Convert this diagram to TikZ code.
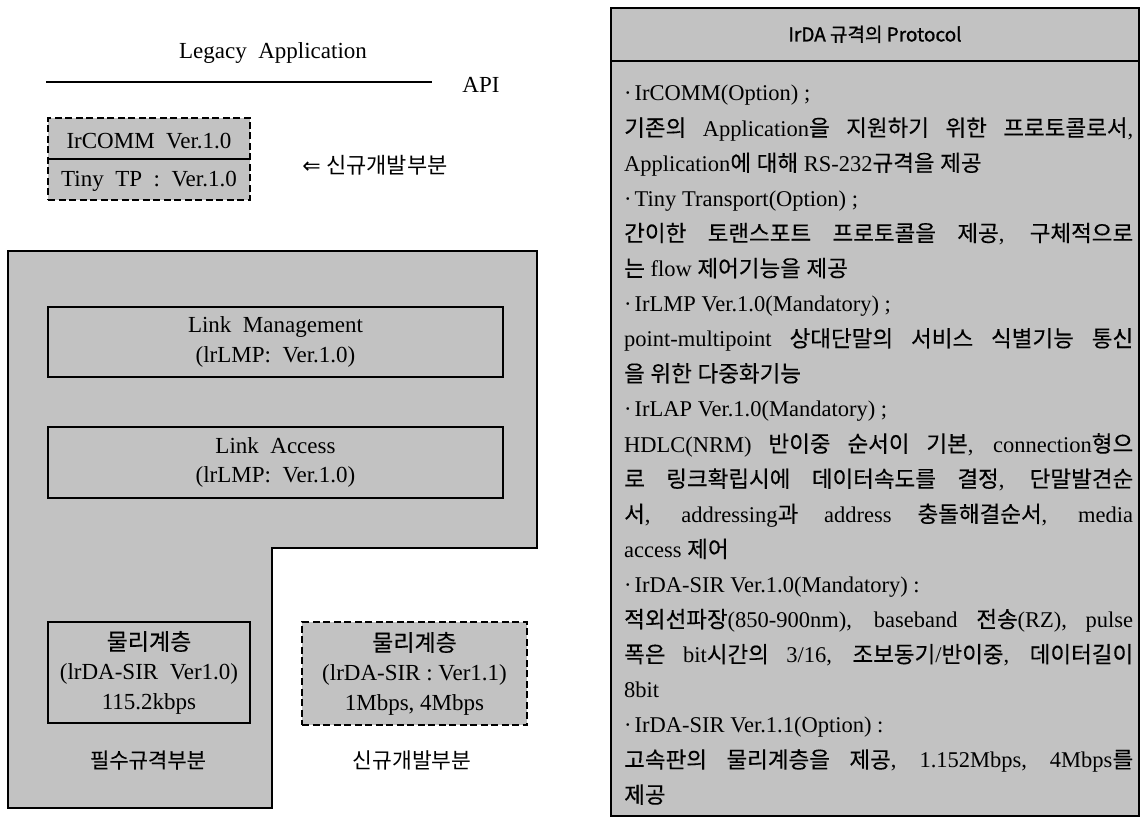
\documentclass[tikz,border=0pt]{standalone}
\usepackage{fontspec}
\setmainfont{Liberation Serif}
\newfontfamily\kr[FakeBold=0.3]{Noto Sans CJK KR}
\newfontfamily\krn{Noto Sans CJK KR}
\newfontfamily\krh[FakeBold=1.2]{Noto Sans CJK KR}
\newfontfamily\dv{DejaVu Sans}
\newcommand\K[1]{{\kr #1}}
\definecolor{scr}{gray}{0.76}
\begin{document}
\begin{tikzpicture}[x=1pt,y=-1pt,
  frame/.style={draw=black, line width=1.6pt},
  box/.style={frame, fill=scr, inner sep=0pt, align=center},
  dbox/.style={draw=black, line width=1.4pt, dash pattern=on 7pt off 3.5pt, fill=scr, inner sep=0pt, align=center},
  lat/.style={font=\fontsize{23}{29.5}\selectfont},
  kor/.style={font=\fontsize{21}{26}\kr, inner sep=0pt},
  korn/.style={font=\fontsize{21.5}{26}\krn, inner sep=0pt},
  rl/.style={anchor=base west, inner sep=0pt, font=\fontsize{22.5}{26}\selectfont},
  rj/.style={rl}
]
\useasboundingbox (0,0) rectangle (1147,818);

% ---------------- left part ----------------
\node[lat, anchor=base, inner sep=0pt] (legacy) at (273,59) {Legacy\ \ Application};
\coordinate (apiL) at (46,82);
\coordinate (apiR) at (432,82);
\draw[line width=2pt] (apiL) -- (apiR);
\node[lat, anchor=base, inner sep=0pt] (api) at (481,93) {API};

\node[dbox, minimum width=202, minimum height=82] (irc) at (149,159) {};
\draw[line width=1.6pt] (irc.west) -- (irc.east);
\node[lat, anchor=base, inner sep=0pt] (irct) at (149,149) {IrCOMM\ \ Ver.1.0};
\node[lat, anchor=base, inner sep=0pt] (tinyt) at (149,187) {Tiny\ \ TP\ \ :\ \ Ver.1.0};
\node[font=\fontsize{22}{26}\selectfont, inner sep=0pt] (newpart) at (375,165) {{\dv ⇐}\ {\krn 신규개발부분}};

\draw[frame, fill=scr] (8,251) -- (537,251) -- (537,548) -- (272,548) -- (272,808) -- (8,808) -- cycle;

\node[box, lat, minimum width=455, minimum height=70] (lm) at (275.5,342) {Link\ \ Management\\(lrLMP:\ \ Ver.1.0)};
\node[box, lat, minimum width=455, minimum height=71] (la) at (275.5,462.5) {Link\ \ Access\\(lrLMP:\ \ Ver.1.0)};

\node[box, lat, minimum width=202, minimum height=101] (phy1) at (149,672.5) {\K{물리계층}\\(lrDA-SIR\ \ Ver1.0)\\115.2kbps};
\node[dbox, lat, minimum width=225, minimum height=103] (phy2) at (414.5,673.5) {\K{물리계층}\\(lrDA-SIR\ :\ Ver1.1)\\1Mbps,\ 4Mbps};

\node[kor] (must) at (148,760) {필수규격부분};
\node[korn] (newp) at (412,760) {신규개발부분};

% ---------------- right part ----------------
\node[frame, fill=scr, minimum width=528, minimum height=755, inner sep=0pt, anchor=north] (body) at (875,60) {};
\node[frame, fill=scr, minimum width=528, minimum height=53, inner sep=0pt, anchor=north, font=\fontsize{19}{22}\krh] (hdr) at (875,7) {IrDA 규격의 Protocol};

\node[rl] (r1)  at (624,101.0) {·\hspace{3pt}IrCOMM(Option) ;};
\node[rj] (r2)  at (624,136.1) {\makebox[509pt][s]{\K{기존의} Application\K{을} \K{지원하기} \K{위한} \K{프로토콜로서},}};
\node[rl] (r3)  at (624,171.2) {Application\K{에} \K{대해} RS-232\K{규격을} \K{제공}};
\node[rl] (r4)  at (624,206.3) {·\hspace{3pt}Tiny Transport(Option) ;};
\node[rj] (r5)  at (624,241.4) {\makebox[509pt][s]{\K{간이한} \K{토랜스포트} \K{프로토콜을} \K{제공}, \K{구체적으로}}};
\node[rl] (r6)  at (624,276.5) {\K{는} flow \K{제어기능을} \K{제공}};
\node[rl] (r7)  at (624,311.6) {·\hspace{3pt}IrLMP Ver.1.0(Mandatory) ;};
\node[rj] (r8)  at (624,346.7) {\makebox[509pt][s]{point-multipoint \K{상대단말의} \K{서비스} \K{식별기능} \K{통신}}};
\node[rl] (r9)  at (624,381.8) {\K{을} \K{위한} \K{다중화기능}};
\node[rl] (r10) at (624,416.9) {·\hspace{3pt}IrLAP Ver.1.0(Mandatory) ;};
\node[rj] (r11) at (624,452.0) {\makebox[509pt][s]{HDLC(NRM) \K{반이중} \K{순서이} \K{기본}, connection\K{형으}}};
\node[rj] (r12) at (624,487.1) {\makebox[509pt][s]{\K{로} \K{링크확립시에} \K{데이터속도를} \K{결정}, \K{단말발견순}}};
\node[rj] (r13) at (624,522.2) {\makebox[509pt][s]{\K{서}, addressing\K{과} address \K{충돌해결순서}, media}};
\node[rl] (r14) at (624,557.3) {access \K{제어}};
\node[rl] (r15) at (624,592.4) {·\hspace{3pt}IrDA-SIR Ver.1.0(Mandatory) :};
\node[rj] (r16) at (624,627.5) {\makebox[509pt][s]{\K{적외선파장}(850-900nm), baseband \K{전송}(RZ), pulse}};
\node[rj] (r17) at (624,662.6) {\makebox[509pt][s]{\K{폭은} bit\K{시간의} 3/16, \K{조보동기}/\K{반이중}, \K{데이터길이}}};
\node[rl] (r18) at (624,697.7) {8bit};
\node[rl] (r19) at (624,732.8) {·\hspace{3pt}IrDA-SIR Ver.1.1(Option) :};
\node[rj] (r20) at (624,767.9) {\makebox[509pt][s]{\K{고속판의} \K{물리계층을} \K{제공}, 1.152Mbps, 4Mbps\K{를}}};
\node[rl] (r21) at (624,803.0) {\K{제공}};
\end{tikzpicture}
\end{document}
